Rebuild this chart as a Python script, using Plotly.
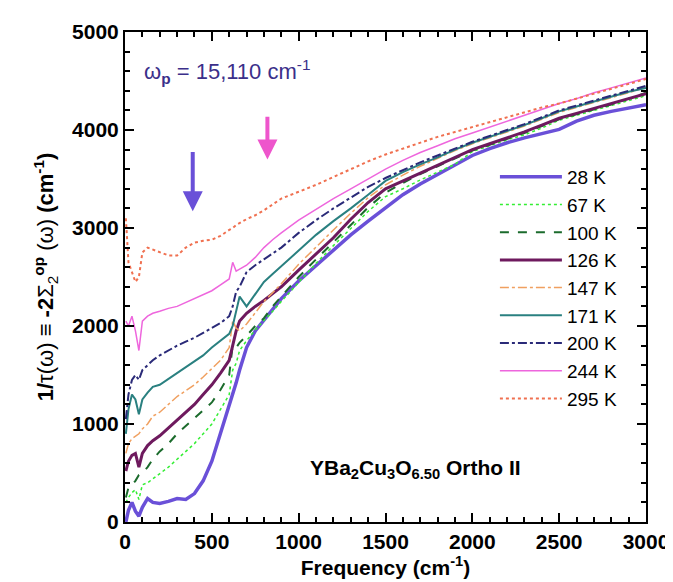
import plotly.graph_objects as go

freq = [5, 20, 40, 60, 80, 100, 130, 160, 200, 250, 300, 350, 400, 450, 500, 550, 600, 620, 640, 660,
        700, 750, 800, 850, 900, 1000, 1100, 1200, 1300, 1400, 1500, 1600, 1700, 1800, 1900, 2000,
        2100, 2200, 2300, 2400, 2500, 2600, 2700, 2800, 2900, 3000]

t28 = [0, 120, 200, 110, 60, 150, 240, 200, 190, 210, 240, 230, 290, 420, 620, 900, 1180, 1300, 1420, 1550,
       1780, 1950, 2060, 2170, 2280, 2460, 2620, 2780, 2930, 3070, 3210, 3340, 3450, 3550, 3650, 3740,
       3810, 3870, 3920, 3960, 4006, 4090, 4150, 4190, 4225, 4257]
t67 = [200, 250, 300, 330, 230, 380, 400, 440, 500, 560, 640, 720, 800, 900, 1000, 1150, 1300, 1550, 1620, 1750,
       1850, 1960, 2050, 2150, 2250, 2450, 2640, 2820, 2990, 3170, 3320, 3400, 3490, 3570, 3650, 3780,
       3840, 3900, 3950, 4020, 4100, 4150, 4200, 4250, 4300, 4350]
t100 = [250, 350, 380, 420, 480, 500, 560, 640, 720, 800, 900, 980, 1050, 1130, 1220, 1350, 1500, 1800, 1780, 1830,
        1900, 2000, 2080, 2200, 2300, 2500, 2680, 2850, 3030, 3210, 3360, 3460, 3550, 3630, 3710, 3790,
        3850, 3910, 3970, 4040, 4110, 4160, 4210, 4260, 4320, 4380]
t126 = [520, 620, 680, 700, 560, 700, 780, 830, 880, 960, 1050, 1130, 1200, 1300, 1400, 1520, 1650, 1800, 1950, 2050,
        2130, 2200, 2260, 2330, 2400, 2570, 2740, 2900, 3090, 3260, 3400, 3480, 3560, 3640, 3720, 3800,
        3860, 3920, 3980, 4050, 4120, 4170, 4220, 4270, 4320, 4370]
t147 = [700, 800, 850, 880, 900, 950, 1000, 1080, 1120, 1200, 1280, 1340, 1400, 1480, 1560, 1650, 1780, 2050, 1980, 1950,
        2020, 2130, 2250, 2340, 2430, 2630, 2810, 2980, 3150, 3310, 3440, 3540, 3630, 3710, 3790, 3860,
        3920, 3980, 4040, 4110, 4180, 4230, 4280, 4330, 4380, 4440]
t171 = [900, 1150, 1300, 1250, 1100, 1250, 1320, 1380, 1400, 1460, 1520, 1580, 1640, 1700, 1780, 1850, 1920, 2000, 2150, 2300,
        2200, 2330, 2450, 2530, 2610, 2780, 2930, 3070, 3200, 3340, 3480, 3570, 3650, 3720, 3800, 3870,
        3930, 3990, 4050, 4120, 4190, 4240, 4290, 4340, 4390, 4430]
t200 = [1050, 1300, 1450, 1500, 1450, 1550, 1600, 1650, 1700, 1750, 1800, 1840, 1880, 1930, 1980, 2030, 2100, 2200, 2350, 2400,
        2550, 2620, 2680, 2740, 2800, 2950, 3080, 3200, 3310, 3420, 3510, 3590, 3670, 3740, 3810, 3880,
        3940, 4000, 4060, 4130, 4200, 4250, 4300, 4350, 4400, 4450]
t244 = [2050, 2000, 2100, 1950, 1750, 2050, 2100, 2130, 2150, 2180, 2200, 2240, 2280, 2320, 2360, 2420, 2480, 2650, 2560, 2580,
        2620, 2700, 2800, 2880, 2950, 3080, 3190, 3300, 3400, 3500, 3600, 3690, 3770, 3840, 3910, 3970,
        4030, 4090, 4150, 4210, 4270, 4320, 4380, 4430, 4480, 4530]
t295 = [3100, 2650, 2550, 2450, 2500, 2750, 2800, 2780, 2750, 2720, 2720, 2800, 2850, 2870, 2880, 2920, 2980, 3000, 3030, 3050,
        3090, 3130, 3180, 3240, 3300, 3370, 3440, 3520, 3600, 3680, 3750, 3810, 3870, 3930, 3980, 4030,
        4080, 4130, 4180, 4230, 4270, 4320, 4370, 4420, 4470, 4520]

labels = ["28 K", "67 K", "100 K", "126 K", "147 K", "171 K", "200 K", "244 K", "295 K"]
series = [t28, t67, t100, t126, t147, t171, t200, t244, t295]
colors = ["#6a50d8", "#33ee33", "#1b6b2c", "#6e1a5e", "#f0a060", "#2a8080", "#2a2a78", "#ee66dd", "#f07050"]
dashes = ["solid", "dot", "dash", "solid", "dashdot", "solid", "dashdot", "solid", "dot"]
widths = [3.5, 1.5, 2, 3, 1.5, 2, 2, 1.5, 2]

# arrows: x position, start value, end value
arrow_x = [390, 820]
arrow_y0 = [3790, 4150]
arrow_y1 = [3170, 3700]
arrow_colors = ["#6a50d8", "#ee55cc"]

fig = go.Figure()
for lab, ys, c, d, w in zip(labels, series, colors, dashes, widths):
    fig.add_trace(go.Scatter(x=freq, y=ys, mode="lines", name=lab,
                             line=dict(color=c, dash=d, width=w)))

for ax_, y0, y1, c in zip(arrow_x, arrow_y0, arrow_y1, arrow_colors):
    fig.add_annotation(x=ax_, y=y1, ax=ax_, ay=y0, xref="x", yref="y", axref="x", ayref="y",
                       showarrow=True, arrowhead=2, arrowsize=1, arrowwidth=4, arrowcolor=c, text="")

fig.add_annotation(x=100, y=4600, xref="x", yref="y", xanchor="left", yanchor="middle", showarrow=False,
                   text="ω<sub><b>p</b></sub> = 15,110 cm<sup>-1</sup>",
                   font=dict(family="Liberation Sans", size=22, color="#3b2f8a"))
fig.add_annotation(x=1670, y=540, xref="x", yref="y", xanchor="center", yanchor="middle", showarrow=False,
                   text="<b>YBa<sub>2</sub>Cu<sub>3</sub>O<sub>6.50</sub> Ortho II</b>",
                   font=dict(family="Liberation Sans", size=21, color="black"))

axis_common = dict(showline=True, linecolor="black", linewidth=2, mirror="ticks", ticks="inside",
                   tickwidth=1.5, tickcolor="black", showgrid=False, zeroline=False,
                   tickfont=dict(family="Liberation Sans", size=21, color="black", weight="bold"))

fig.update_xaxes(range=[0, 3000], tickvals=[0, 500, 1000, 1500, 2000, 2500, 3000], ticklen=9,
                 minor=dict(dtick=100, ticks="inside", ticklen=5, tickcolor="black", tickwidth=1.5),
                 title=dict(text="<b>Frequency (cm<sup>-1</sup>)</b>", standoff=6,
                            font=dict(family="Liberation Sans", size=21, color="black")),
                 **axis_common)
fig.update_yaxes(range=[0, 5000], tickvals=[0, 1000, 2000, 3000, 4000, 5000], ticklen=9,
                 minor=dict(dtick=200, ticks="inside", ticklen=5, tickcolor="black", tickwidth=1.5),
                 title=dict(text="<b>1/</b>τ(ω) ≡ <b>-2</b>Σ<sub>2</sub><sup><b>op</b></sup> (ω) <b>(cm<sup>-1</sup>)</b>",
                            standoff=12, font=dict(family="Liberation Sans", size=22, color="black")),
                 **axis_common)

fig.update_layout(width=673, height=582, margin=dict(l=117, r=24, t=16, b=68),
                  plot_bgcolor="white", paper_bgcolor="white",
                  legend=dict(x=0.71, y=0.743, xanchor="left", yanchor="top", bgcolor="rgba(0,0,0,0)",
                              itemwidth=62, tracegroupgap=0,
                              font=dict(family="Liberation Sans", size=19, color="black")))

fig.write_html("out.html")
